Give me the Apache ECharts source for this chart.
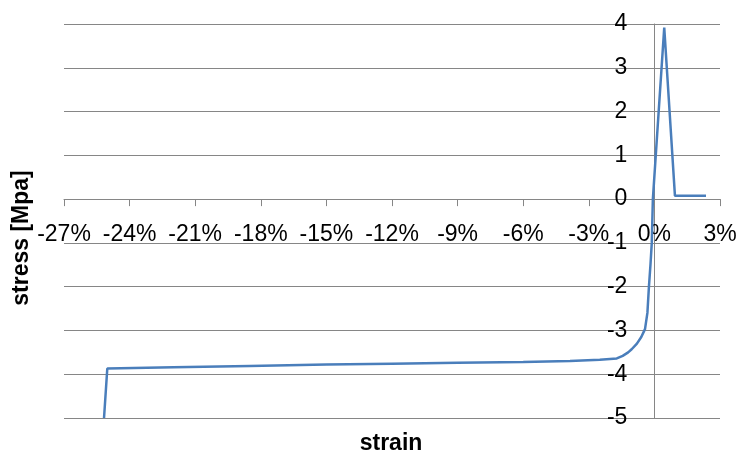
<!DOCTYPE html>
<html>
<head>
<meta charset="utf-8">
<script src="https://cdn.jsdelivr.net/npm/echarts@6/dist/echarts.min.js"></script>
<style>html,body{margin:0;padding:0;background:#fff}#c{width:737px;height:450px}</style>
</head>
<body>
<div id="c"></div>
<script>
// strain in percent
var strain = [-25.17, -25.02, -22, -18.5, -15, -12, -9, -6, -3.86, -2.5, -1.72, -1.45, -1.2, -1.04, -0.8, -0.6, -0.43, -0.32, -0.25, -0.18, -0.12, -0.07, 0.45, 0.94, 2.36];
// stress in MPa
var stress = [-5, -3.87, -3.84, -3.81, -3.78, -3.76, -3.74, -3.72, -3.70, -3.67, -3.64, -3.58, -3.50, -3.43, -3.30, -3.15, -2.97, -2.60, -2.00, -1.50, -1.00, 0, 3.92, 0.075, 0.075];
var xTicks = { min: -27, max: 3, step: 3 };
var yTicks = { min: -5, max: 4, step: 1 };
var xTitle = 'strain';
var yTitle = 'stress [Mpa]';

var data = strain.map(function (s, i) { return [s, stress[i]]; });
var chart = echarts.init(document.getElementById('c'), null, { renderer: 'canvas' });
var FONT = '"Liberation Sans", Arial, sans-serif';
var G = { left: 64, right: 17, top: 24, bottom: 32 };
var W = 737, H = 450;
var plotW = W - G.left - G.right, plotH = H - G.top - G.bottom;
// axes cross at zero: compute offsets from the axis ranges
var yZeroPx = G.top + plotH * (yTicks.max - 0) / (yTicks.max - yTicks.min);
var xZeroPx = G.left + plotW * (0 - xTicks.min) / (xTicks.max - xTicks.min);
chart.setOption({
  animation: false,
  backgroundColor: '#fff',
  grid: { left: G.left, right: G.right, top: G.top, bottom: G.bottom, containLabel: false, outerBoundsMode: 'none' },
  xAxis: {
    type: 'value', min: xTicks.min, max: xTicks.max, interval: xTicks.step,
    position: 'bottom', offset: -(H - G.bottom - yZeroPx),
    axisLine: { onZero: false, lineStyle: { color: '#868686', width: 1 } },
    axisTick: { show: true, inside: false, length: 7, lineStyle: { color: '#868686', width: 1 } },
    axisLabel: { color: '#000', fontFamily: FONT, fontSize: 23, margin: 24,
      formatter: function (v) { return Math.round(v) + '%'; } },
    splitLine: { show: false }
  },
  yAxis: {
    type: 'value', min: yTicks.min, max: yTicks.max, interval: yTicks.step,
    position: 'left', offset: -(xZeroPx - G.left),
    axisLine: { show: true, onZero: false, lineStyle: { color: '#868686', width: 1 } },
    axisTick: { show: false },
    axisLabel: { color: '#000', fontFamily: FONT, fontSize: 23, margin: 27 },
    splitLine: { show: true, lineStyle: { color: '#868686', width: 1 } }
  },
  graphic: [
    { type: 'text', x: 391, y: 444,
      style: { text: xTitle, font: 'bold 23px ' + FONT, fill: '#000', textAlign: 'center', textVerticalAlign: 'middle' } },
    { type: 'text', rotation: Math.PI / 2, x: 22, y: 238,
      style: { text: yTitle, font: 'bold 23px ' + FONT, fill: '#000', textAlign: 'center', textVerticalAlign: 'middle' } }
  ],
  series: [{
    type: 'line', data: data, showSymbol: false, symbol: 'none',
    lineStyle: { color: '#4a7ebb', width: 2.5 }, z: 5
  }]
});
</script>
</body>
</html>
